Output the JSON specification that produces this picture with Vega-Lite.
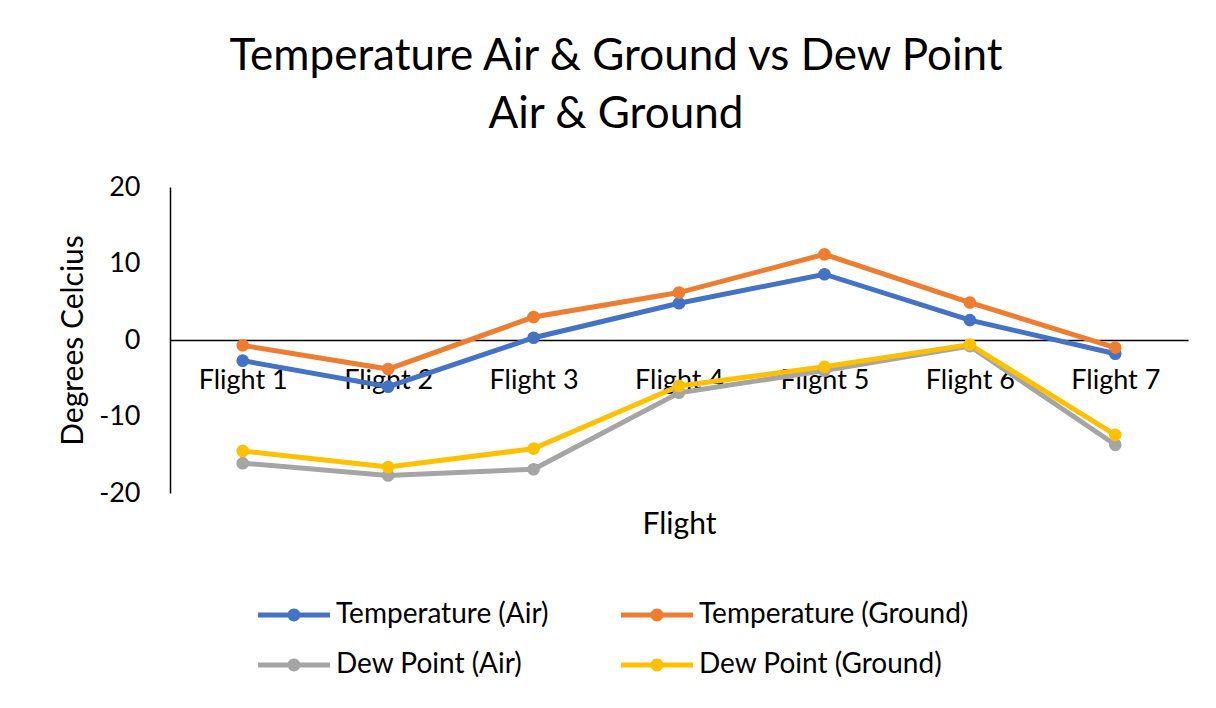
{
  "$schema": "https://vega.github.io/schema/vega-lite/v6.json",
  "autosize": "none",
  "width": 1018,
  "height": 306,
  "padding": {"left": 170, "top": 187, "right": 28, "bottom": 215},
  "background": "white",
  "title": {
    "text": ["Temperature Air & Ground vs Dew Point", "Air & Ground"],
    "anchor": "middle",
    "frame": "group",
    "dx": -63,
    "offset": 36,
    "fontSize": 44,
    "fontWeight": "normal",
    "lineHeight": 58,
    "color": "#000000",
    "font": "Lato"
  },
  "data": {
    "values": [
      {"flight": "Flight 1", "series": "Temperature (Air)", "value": -2.7},
      {"flight": "Flight 2", "series": "Temperature (Air)", "value": -6.1},
      {"flight": "Flight 3", "series": "Temperature (Air)", "value": 0.3},
      {"flight": "Flight 4", "series": "Temperature (Air)", "value": 4.8},
      {"flight": "Flight 5", "series": "Temperature (Air)", "value": 8.6},
      {"flight": "Flight 6", "series": "Temperature (Air)", "value": 2.6},
      {"flight": "Flight 7", "series": "Temperature (Air)", "value": -1.8},
      {"flight": "Flight 1", "series": "Temperature (Ground)", "value": -0.7},
      {"flight": "Flight 2", "series": "Temperature (Ground)", "value": -3.8},
      {"flight": "Flight 3", "series": "Temperature (Ground)", "value": 3.0},
      {"flight": "Flight 4", "series": "Temperature (Ground)", "value": 6.2},
      {"flight": "Flight 5", "series": "Temperature (Ground)", "value": 11.2},
      {"flight": "Flight 6", "series": "Temperature (Ground)", "value": 4.9},
      {"flight": "Flight 7", "series": "Temperature (Ground)", "value": -1.0},
      {"flight": "Flight 1", "series": "Dew Point (Air)", "value": -16.1},
      {"flight": "Flight 2", "series": "Dew Point (Air)", "value": -17.7},
      {"flight": "Flight 3", "series": "Dew Point (Air)", "value": -16.9},
      {"flight": "Flight 4", "series": "Dew Point (Air)", "value": -6.9},
      {"flight": "Flight 5", "series": "Dew Point (Air)", "value": -4.0},
      {"flight": "Flight 6", "series": "Dew Point (Air)", "value": -0.8},
      {"flight": "Flight 7", "series": "Dew Point (Air)", "value": -13.7},
      {"flight": "Flight 1", "series": "Dew Point (Ground)", "value": -14.5},
      {"flight": "Flight 2", "series": "Dew Point (Ground)", "value": -16.6},
      {"flight": "Flight 3", "series": "Dew Point (Ground)", "value": -14.2},
      {"flight": "Flight 4", "series": "Dew Point (Ground)", "value": -6.0},
      {"flight": "Flight 5", "series": "Dew Point (Ground)", "value": -3.5},
      {"flight": "Flight 6", "series": "Dew Point (Ground)", "value": -0.6},
      {"flight": "Flight 7", "series": "Dew Point (Ground)", "value": -12.4}
    ]
  },
  "encoding": {
    "x": {
      "field": "flight",
      "type": "nominal",
      "sort": null,
      "scale": {"paddingInner": 0, "paddingOuter": 0.5},
      "axis": {
        "title": "Flight",
        "orient": "bottom",
        "offset": -153,
        "labelAngle": 0,
        "ticks": false,
        "labelPadding": 27,
        "labelFontSize": 27,
        "labelColor": "#000000",
        "labelFont": "Lato",
        "domainColor": "#000000",
        "domainWidth": 1.5,
        "titleFontSize": 30,
        "titleFontWeight": "normal",
        "titleColor": "#000000",
        "titleFont": "Lato",
        "titleBaseline": "middle",
        "titleY": 184
      }
    },
    "y": {
      "field": "value",
      "type": "quantitative",
      "scale": {"domain": [-20, 20], "nice": false, "zero": false},
      "axis": {
        "title": "Degrees Celcius",
        "values": [-20, -10, 0, 10, 20],
        "labelExpr": "'' + datum.value",
        "grid": false,
        "ticks": false,
        "labelPadding": 30,
        "labelFontSize": 27,
        "labelColor": "#000000",
        "labelFont": "Lato",
        "domainColor": "#000000",
        "domainWidth": 1.5,
        "titleFontSize": 30,
        "titleFontWeight": "normal",
        "titleColor": "#000000",
        "titleFont": "Lato",
        "titlePadding": 10
      }
    },
    "color": {
      "field": "series",
      "type": "nominal",
      "sort": null,
      "scale": {
        "domain": ["Temperature (Air)", "Temperature (Ground)", "Dew Point (Air)", "Dew Point (Ground)"],
        "range": ["#4472C4", "#ED7D31", "#A5A5A5", "#FFC000"]
      },
      "legend": {
        "title": null,
        "orient": "none",
        "legendX": 88,
        "legendY": 392,
        "direction": "horizontal",
        "columns": 2,
        "columnPadding": 72,
        "rowPadding": -11,
        "labelFontSize": 28,
        "labelColor": "#000000",
        "labelFont": "Lato",
        "labelOffset": 6,
        "labelLimit": 400,
        "symbolSize": 5184,
        "symbolType": "M-1,-0.07L1,-0.07L1,0.07L-1,0.07Z M-0.18,0A0.18,0.18 0 1,1 0.18,0A0.18,0.18 0 1,1 -0.18,0Z",
        "encode": {
          "symbols": {
            "update": {
              "fill": {"scale": "color", "field": "value"},
              "stroke": {"value": "transparent"},
              "strokeWidth": {"value": 0},
              "opacity": {"value": 1}
            }
          }
        }
      }
    }
  },
  "layer": [
    {"mark": {"type": "line", "strokeWidth": 5}},
    {"mark": {"type": "point", "filled": true, "size": 160, "opacity": 1}}
  ],
  "config": {
    "view": {"stroke": null},
    "font": "Lato"
  }
}
